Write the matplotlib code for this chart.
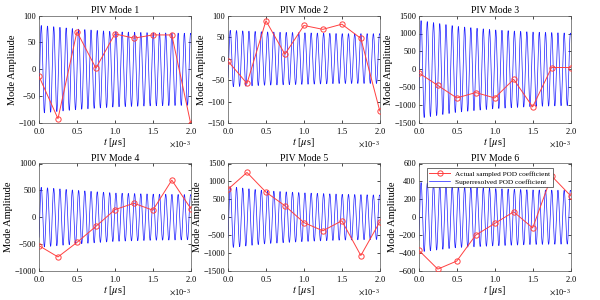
import numpy as np
import matplotlib
matplotlib.use("Agg")
import matplotlib.pyplot as plt
from matplotlib.ticker import ScalarFormatter, MultipleLocator

plt.rcParams['font.family'] = ['Liberation Serif', 'DejaVu Serif']
plt.rcParams['mathtext.fontset'] = 'stix'

# sampled POD coefficients (PIV snapshots)
t_sampled = [0, 0.25e-3, 0.5e-3, 0.75e-3, 1.0e-3, 1.25e-3, 1.5e-3, 1.75e-3, 2.0e-3]
mode1 = [-13, -92, 70, 2, 66, 58, 64, 64, -102]
mode2 = [-6, -58, 88, 10, 77, 68, 80, 47, -122]
mode3 = [-100, -450, -800, -650, -800, -280, -1050, 50, 50]
mode4 = [-530, -740, -470, -170, 140, 260, 130, 690, 160]
mode5 = [780, 1250, 700, 320, -150, -380, -100, -1070, -130]
mode6 = [-370, -580, -490, -200, -70, 60, -120, 460, 240]

# superresolved signal: oscillation envelope read at these times
t_env = [0, 0.5e-3, 1.0e-3, 1.5e-3, 2.0e-3]
env1 = [82, 75, 70, 68, 67]
env2 = [66, 62, 60, 58, 58]
env3 = [1370, 1200, 1100, 1040, 1010]
env4 = [560, 500, 450, 430, 420]
env5 = [860, 740, 680, 640, 620]
env6 = [390, 340, 320, 305, 300]
freq = 12.2e3  # Hz, ~24 cycles over the window
first_peak = 0.03e-3

titles = ["PIV Mode 1", "PIV Mode 2", "PIV Mode 3", "PIV Mode 4", "PIV Mode 5", "PIV Mode 6"]
samples = [mode1, mode2, mode3, mode4, mode5, mode6]
envelopes = [env1, env2, env3, env4, env5, env6]
ylims = [(-100, 100), (-150, 100), (-1500, 1500), (-1000, 1000), (-1500, 1500), (-600, 600)]
ysteps = [50, 50, 500, 500, 500, 200]

fig = plt.figure(figsize=(6, 3), dpi=100)

lefts = [0.065, 0.38, 0.698]
bottoms = [0.59, 0.097]
w, h = 0.253, 0.358

t_fine = np.linspace(0, 2e-3, 4000)

for i in range(6):
    ax = fig.add_axes([lefts[i % 3], bottoms[i // 3], w, h])
    amp = np.interp(t_fine, t_env, envelopes[i])
    sig = amp * np.cos(2 * np.pi * freq * (t_fine - first_peak))
    l1, = ax.plot(t_sampled, samples[i], '-o', color='#ff4040', lw=0.7,
                  markersize=3.8, markerfacecolor='none', markeredgewidth=0.7, zorder=3)
    l2, = ax.plot(t_fine, sig, color='#1a1aff', lw=0.5, zorder=2)
    ax.set_xlim(0, 2e-3)
    ax.set_ylim(*ylims[i])
    ax.yaxis.set_major_locator(MultipleLocator(ysteps[i]))
    ax.xaxis.set_major_locator(MultipleLocator(0.5e-3))
    fmt = ScalarFormatter(useMathText=True)
    fmt.set_powerlimits((-2, 2))
    ax.xaxis.set_major_formatter(fmt)
    ax.xaxis.get_offset_text().set_fontsize(6)
    ax.tick_params(direction='in', top=True, right=True, length=2.5, width=0.5,
                   labelsize=6, pad=2)
    for s in ax.spines.values():
        s.set_linewidth(0.5)
        s.set_color('#555555')
    ax.set_title(titles[i], fontsize=7, pad=2)
    ax.set_ylabel("Mode Amplitude", fontsize=7.5, labelpad=1)
    ax.set_xlabel(r"$t$ [$\mu$s]", fontsize=7.5, labelpad=0)
    if i == 5:
        leg = ax.legend([l1, l2], ["Actual sampled POD coefficient", "Superresolved POD coefficient"],
                        loc='upper left', bbox_to_anchor=(0.03, 0.99), fontsize=5.2,
                        handlelength=2.8, borderpad=0.35, labelspacing=0.25, fancybox=False,
                        framealpha=1, edgecolor='#333333')
        leg.get_frame().set_linewidth(0.5)

fig.savefig("out.png", dpi=100)
